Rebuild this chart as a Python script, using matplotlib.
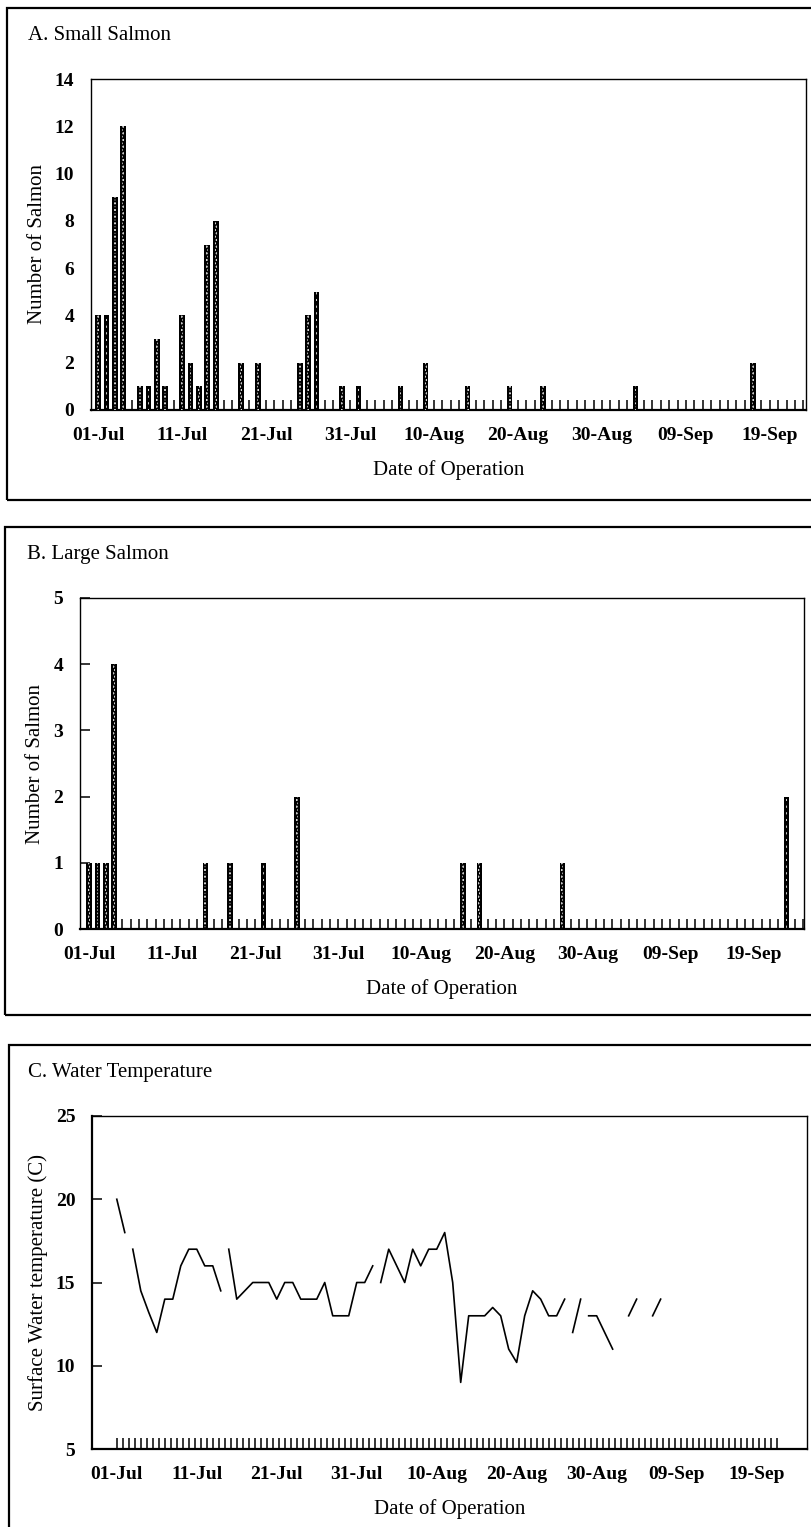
import numpy as np
import matplotlib
matplotlib.use('Agg')
import matplotlib.pyplot as plt
from matplotlib.patches import Rectangle

plt.rcParams['font.family'] = ['Liberation Serif', 'DejaVu Serif']
plt.rcParams['hatch.linewidth'] = 1.0

nan = np.nan

# days counted from 01-Jul
tick_days = [0, 10, 20, 30, 40, 50, 60, 70, 80]
tick_labels = ['01-Jul', '11-Jul', '21-Jul', '31-Jul', '10-Aug', '20-Aug', '30-Aug', '09-Sep', '19-Sep']

small_days = [0, 1, 2, 3, 5, 6, 7, 8, 10, 11, 12, 13, 14, 17, 19, 24, 25, 26, 29, 31, 36, 39, 44, 49, 53, 64, 78]
small_count = [4, 4, 9, 12, 1, 1, 3, 1, 4, 2, 1, 7, 8, 2, 2, 2, 4, 5, 1, 1, 1, 2, 1, 1, 1, 1, 2]

large_days = [0, 1, 2, 3, 14, 17, 21, 25, 45, 47, 57, 84]
large_count = [1, 1, 1, 4, 1, 1, 1, 2, 1, 1, 1, 2]

# nan = break in the line
temp_days = [0, 1, nan,
             2, 3, 4, 5, 6, 7, 8, 9, 10, 11, 12, 13, nan,
             14, 15, 16, 17, 18, 19, 20, 21, 22, 23, 24, 25, 26, 27, 28, 29, 30, 31, 32, nan,
             33, 34, 35, 36, 37, 38, 39, 40, 41, 42, 43, 44, 45, 46, 47, 48, 49, 50, 51, 52, 53, 54, 55, 56, nan,
             57, 58, nan,
             59, 60, 61, 62, nan,
             64, 65, nan,
             67, 68]
temp_c = [20, 18, nan,
          17, 14.5, 13.2, 12, 14, 14, 16, 17, 17, 16, 16, 14.5, nan,
          17, 14, 14.5, 15, 15, 15, 14, 15, 15, 14, 14, 14, 15, 13, 13, 13, 15, 15, 16, nan,
          15, 17, 16, 15, 17, 16, 17, 17, 18, 15, 9, 13, 13, 13, 13.5, 13, 11, 10.2, 13, 14.5, 14, 13, 13, 14, nan,
          12, 14, nan,
          13, 13, 12, 11, nan,
          13, 14, nan,
          13, 14]

W, H = 811, 1527
fig = plt.figure(figsize=(W / 100, H / 100), dpi=100)


def px_axes(left, top, right, bottom):
    return fig.add_axes([left / W, 1 - bottom / H, (right - left) / W, (bottom - top) / H])


def px_box(left, top, right, bottom):
    fig.patches.append(Rectangle((left / W, 1 - bottom / H), (right - left) / W, (bottom - top) / H,
                                 transform=fig.transFigure, fill=False, lw=1.6, ec='black'))


px_box(7, 8, 830, 500)
px_box(5, 527, 830, 1015)
px_box(9, 1045, 830, 1560)

fig.text(28 / W, 1 - 35 / H, 'A. Small Salmon', fontsize=15, va='center')
fig.text(27 / W, 1 - 555 / H, 'B. Large Salmon', fontsize=15, va='center')
fig.text(28 / W, 1 - 1072 / H, 'C. Water Temperature', fontsize=15, va='center')


def dress(ax, ylabel, ylab_x, tick_len_y):
    ax.xaxis.remove_overlapping_locs = False
    ax.set_xticks(tick_days, tick_labels)
    ax.tick_params(axis='x', which='major', length=0, pad=12, labelsize=14)
    ax.tick_params(axis='x', which='minor', direction='in', length=7, width=1.1)
    ax.tick_params(axis='y', direction='in', length=tick_len_y, width=1.1, pad=12, labelsize=14)
    plt.setp(ax.get_xticklabels() + ax.get_yticklabels(), fontweight='bold')
    ax.set_ylabel(ylabel, fontsize=15, va='center')
    ax.yaxis.set_label_coords(ylab_x, 0.5)
    ax.set_xlabel('Date of Operation', fontsize=15, va='center')
    ax.xaxis.set_label_coords(0.5, -0.18)
    for s in ax.spines.values():
        s.set_linewidth(1.0)
    ax.spines['bottom'].set_linewidth(1.6)


def dotted_bars(ax, days, counts):
    ax.bar(days, counts, width=0.68, color='black', zorder=3)
    ax.bar(days, counts, width=0.22, facecolor='none', edgecolor='white', hatch='.....', lw=0, zorder=4)


# A. small salmon
ax1 = px_axes(91, 79, 806, 410)
dotted_bars(ax1, small_days, small_count)
ax1.set_xlim(-0.85, 84.3)
ax1.set_ylim(0, 14)
ax1.set_yticks(range(0, 15, 2))
ax1.set_xticks(np.arange(0, 85), minor=True)
dress(ax1, 'Number of Salmon', -0.075, 0)

# B. large salmon
ax2 = px_axes(80, 598, 804, 929)
dotted_bars(ax2, large_days, large_count)
ax2.set_xlim(-1.1, 86.1)
ax2.set_ylim(0, 5)
ax2.set_yticks(range(0, 6))
ax2.set_xticks(np.arange(0, 87), minor=True)
dress(ax2, 'Number of Salmon', -0.062, 7)

# C. water temperature
ax3 = px_axes(92, 1116, 807, 1449)
ax3.plot(temp_days, temp_c, color='black', lw=1.2)
ax3.set_xlim(-3.1, 86.3)
ax3.set_ylim(5, 25)
ax3.set_yticks(range(5, 26, 5))
ax3.set_xticks(np.arange(0, 83.1, 0.75), minor=True)
dress(ax3, 'Surface Water temperature (C)', -0.075, 7)
ax3.tick_params(axis='x', which='minor', length=8)
ax3.spines['left'].set_linewidth(1.6)

fig.savefig('out.png', dpi=100)
